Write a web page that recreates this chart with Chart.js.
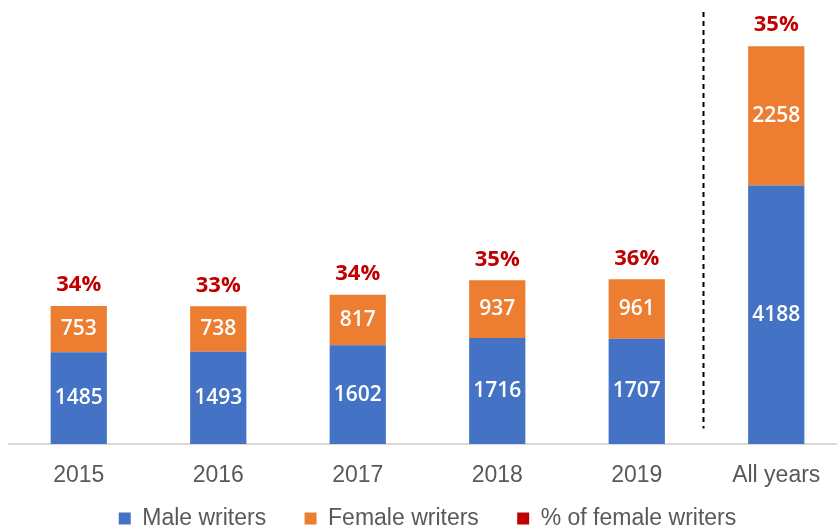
<!DOCTYPE html>
<html>
<head>
<meta charset="utf-8">
<script src="https://cdn.jsdelivr.net/npm/chart.js@4.4.0/dist/chart.umd.min.js"></script>
<style>
  html, body { margin: 0; padding: 0; background: #fff; overflow: hidden; }
  #wrap { width: 846px; height: 540px; }
</style>
</head>
<body>
<div id="wrap"><canvas id="chart"></canvas></div>
<script>
// data
const years = ['2015', '2016', '2017', '2018', '2019', 'All years'];
const maleWriters = [1485, 1493, 1602, 1716, 1707, 4188];
const femaleWriters = [753, 738, 817, 937, 961, 2258];
const femaleShare = ['34%', '33%', '34%', '35%', '36%', '35%'];

// white numbers inside the segments, red share on top
const barLabels = {
  id: 'barLabels',
  afterDatasetsDraw(chart) {
    const ctx = chart.ctx;
    ctx.save();
    ctx.textAlign = 'center';
    ctx.textBaseline = 'middle';
    ctx.font = '600 21px "Open Sans", sans-serif';
    ctx.fillStyle = '#ffffff';
    [0, 1].forEach(di => {
      chart.getDatasetMeta(di).data.forEach((bar, i) => {
        const v = chart.data.datasets[di].data[i];
        ctx.fillText(v, bar.x, (bar.y + bar.base) / 2);
      });
    });
    ctx.font = 'bold 22px "Open Sans", sans-serif';
    ctx.fillStyle = '#c00000';
    chart.getDatasetMeta(1).data.forEach((bar, i) => {
      ctx.fillText(femaleShare[i], bar.x, bar.y - 21);
    });
    ctx.restore();
  }
};

// dashed separator before "All years"
const separator = {
  id: 'separator',
  afterDatasetsDraw(chart) {
    const x = chart.scales.x;
    const y = chart.scales.y;
    const px = (x.getPixelForValue(4) + x.getPixelForValue(5)) / 2 - 3;
    const ctx = chart.ctx;
    ctx.save();
    ctx.strokeStyle = '#000000';
    ctx.lineWidth = 2;
    ctx.setLineDash([5, 4]);
    ctx.beginPath();
    ctx.moveTo(px, y.top);
    ctx.lineTo(px, y.getPixelForValue(250));
    ctx.stroke();
    ctx.restore();
  }
};

new Chart(document.getElementById('chart'), {
  type: 'bar',
  data: {
    labels: years,
    datasets: [
      { label: 'Male writers', data: maleWriters, backgroundColor: '#4472c4' },
      { label: 'Female writers', data: femaleWriters, backgroundColor: '#ed7d31' },
      { label: '% of female writers', data: [], backgroundColor: '#c00000' }
    ]
  },
  options: {
    responsive: true,
    maintainAspectRatio: false,
    animation: false,
    barPercentage: 0.8,
    categoryPercentage: 0.504,
    layout: { padding: { left: 9, right: 0, top: 12, bottom: 0 } },
    scales: {
      x: {
        stacked: true,
        grid: { display: false, drawTicks: false },
        border: { color: '#d9d9d9', width: 2 },
        ticks: { color: '#595959', font: { family: '"Liberation Sans", Arial, sans-serif', size: 23, lineHeight: 1 }, padding: 20 }
      },
      y: {
        stacked: true,
        display: false,
        min: 0,
        max: 7000
      }
    },
    plugins: {
      legend: {
        position: 'bottom',
        labels: {
          color: '#595959',
          font: { family: '"Liberation Sans", Arial, sans-serif', size: 23 },
          boxWidth: 12,
          boxHeight: 12,
          padding: 0,
          // room between items, the vertical padding is kept tight
          generateLabels(chart) {
            const items = Chart.defaults.plugins.legend.labels.generateLabels(chart);
            items.forEach((it, i) => { if (i < items.length - 1) it.text += '      '; });
            return items;
          }
        }
      },
      tooltip: { enabled: false }
    }
  },
  plugins: [barLabels, separator]
});
</script>
</body>
</html>
